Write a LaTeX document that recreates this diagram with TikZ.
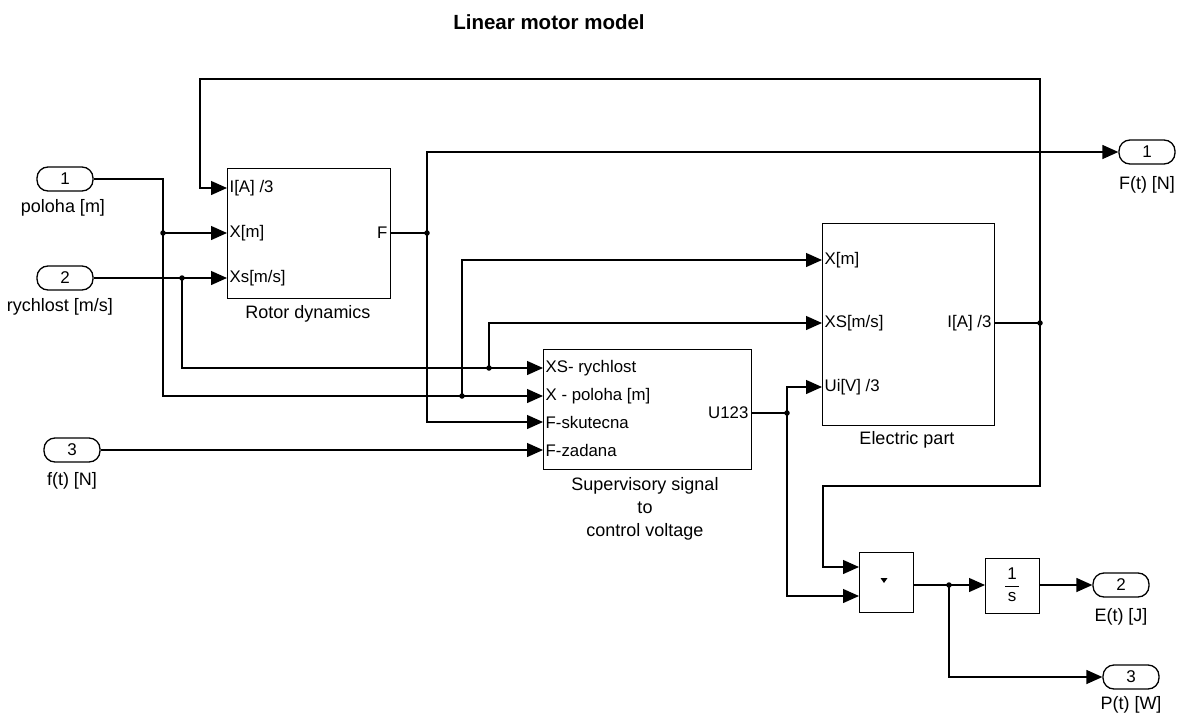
\documentclass[tikz,border=0pt]{standalone}
\usepackage{fontspec}
\setmainfont{Liberation Sans}
\usetikzlibrary{arrows.meta}
\begin{document}
\begin{tikzpicture}[x=1pt,y=-1pt,line width=1.3pt,
  sig/.style={-{Triangle[length=16pt,width=14pt]}},
  blk/.style={draw,rectangle,inner sep=0pt,anchor=north west},
  io/.style={draw,rectangle,rounded corners=11pt,minimum width=56pt,minimum height=24pt,inner sep=0pt,font=\fontsize{17}{20}\selectfont},
  captxt/.style={inner sep=0pt,font=\fontsize{18}{23}\selectfont,align=center},
  plab/.style={inner sep=2pt,font=\fontsize{16.8}{20}\selectfont},
  jdot/.style={circle,fill,inner sep=0pt,minimum size=5.5pt}]
\useasboundingbox (0,0) rectangle (1184,715);

% title
\node[inner sep=0pt,font=\bfseries\fontsize{20.5}{24}\selectfont] (title) at (549,22) {Linear motor model};

% inports / outports
\node[io] (in1) at (65,179) {1};
\node[captxt] (in1l) at (63,208) {poloha [m]};
\node[io] (in2) at (65,278) {2};
\node[captxt] (in2l) at (60,307) {rychlost [m/s]};
\node[io] (in3) at (72,450) {3};
\node[captxt] (in3l) at (72,481) {f(t) [N]};
\node[io] (out1) at (1147,152) {1};
\node[captxt] (out1l) at (1147,185) {F(t) [N]};
\node[io] (out2) at (1121,585) {2};
\node[captxt] (out2l) at (1121,617) {E(t) [J]};
\node[io] (out3) at (1131,677) {3};
\node[captxt] (out3l) at (1131,705) {P(t) [W]};

% blocks
\node[blk,minimum width=163pt,minimum height=130pt] (rot) at (227,168) {};
\node[captxt] (rotl) at (308,314) {Rotor dynamics};
\node[blk,minimum width=208pt,minimum height=120pt] (sup) at (543,349) {};
\node[captxt] (supl) at (645,509) {Supervisory signal\\to\\control voltage};
\node[blk,minimum width=172pt,minimum height=202pt] (ele) at (822,223) {};
\node[captxt] (elel) at (907,440) {Electric part};
\node[blk,minimum width=54pt,minimum height=60pt] (prod) at (859,552) {};
\node[blk,minimum width=54pt,minimum height=55pt] (integ) at (985,558) {};

% block contents
\fill (880.5,578) -- (887.5,578) -- (884,583) -- cycle;
\node[captxt,font=\fontsize{17}{20}\selectfont] (one) at (1012,574) {1};
\draw[line width=1pt] (1005,586) -- (1019,586);
\node[captxt,font=\fontsize{17}{20}\selectfont] (ess) at (1012,597) {s};

% port coordinates
\coordinate (rI) at (227,188);
\coordinate (rX) at (227,233);
\coordinate (rXs) at (227,278);
\coordinate (rF) at (390,233);
\coordinate (sXS) at (543,368);
\coordinate (sX) at (543,396);
\coordinate (sFs) at (543,422);
\coordinate (sFz) at (543,450);
\coordinate (sU) at (751,413);
\coordinate (eX) at (822,260);
\coordinate (eXS) at (822,323);
\coordinate (eUi) at (822,387);
\coordinate (eI) at (994,323);
\coordinate (pA) at (859,567);
\coordinate (pB) at (859,596);
\coordinate (pO) at (913,585);
\coordinate (iI) at (985,585);
\coordinate (iO) at (1039,585);

% port labels
\node[plab,anchor=west] at (rI) {I[A] /3};
\node[plab,anchor=west] at (rX) {X[m]};
\node[plab,anchor=west] at (rXs) {Xs[m/s]};
\node[plab,anchor=east] at (rF) {F};
\node[plab,anchor=west] at (sXS) {XS- rychlost};
\node[plab,anchor=west] at (sX) {X - poloha [m]};
\node[plab,anchor=west] at (sFs) {F-skutecna};
\node[plab,anchor=west] at (sFz) {F-zadana};
\node[plab,anchor=east] at (sU) {U123};
\node[plab,anchor=west] at (eX) {X[m]};
\node[plab,anchor=west] at (eXS) {XS[m/s]};
\node[plab,anchor=west] at (eUi) {Ui[V] /3};
\node[plab,anchor=east] at (eI) {I[A] /3};

% junctions
\node[jdot] (j1) at (163,233) {};
\node[jdot] (j2) at (182,278) {};
\node[jdot] (j3) at (462,396) {};
\node[jdot] (j4) at (489,368) {};
\node[jdot] (j5) at (427,233) {};
\node[jdot] (j6) at (787,413) {};
\node[jdot] (j7) at (1040,323) {};
\node[jdot] (j8) at (949,585) {};

% connectors
\draw (in1.east) -- (in1.east -| j1) -- (j1.center) -- (163,396) -- (j3.center);
\draw[sig] (j3.center) -- (sX);
\draw[sig] (j1.center) -- (rX);
\draw[sig] (in2.east) -- (rXs);
\draw (j2.center) -- (182,368) -- (j4.center);
\draw[sig] (j4.center) -- (sXS);
\draw[sig] (j3.center) -- (462,260) -- (eX);
\draw[sig] (j4.center) -- (489,323) -- (eXS);
\draw (rF) -- (j5.center);
\draw[sig] (j5.center) -- (427,152) -- (out1.west);
\draw[sig] (j5.center) -- (427,422) -- (sFs);
\draw[sig] (in3.east) -- (sFz);
\draw (sU) -- (j6.center);
\draw[sig] (j6.center) -- (787,387) -- (eUi);
\draw[sig] (j6.center) -- (787,596) -- (pB);
\draw (eI) -- (j7.center);
\draw[sig] (j7.center) -- (1040,79) -- (200,79) -- (200,188) -- (rI);
\draw[sig] (j7.center) -- (1040,486) -- (823,486) -- (823,567) -- (pA);
\draw (pO) -- (j8.center);
\draw[sig] (j8.center) -- (iI);
\draw[sig] (j8.center) -- (949,677) -- (out3.west);
\draw[sig] (iO) -- (out2.west);
\end{tikzpicture}
\end{document}
